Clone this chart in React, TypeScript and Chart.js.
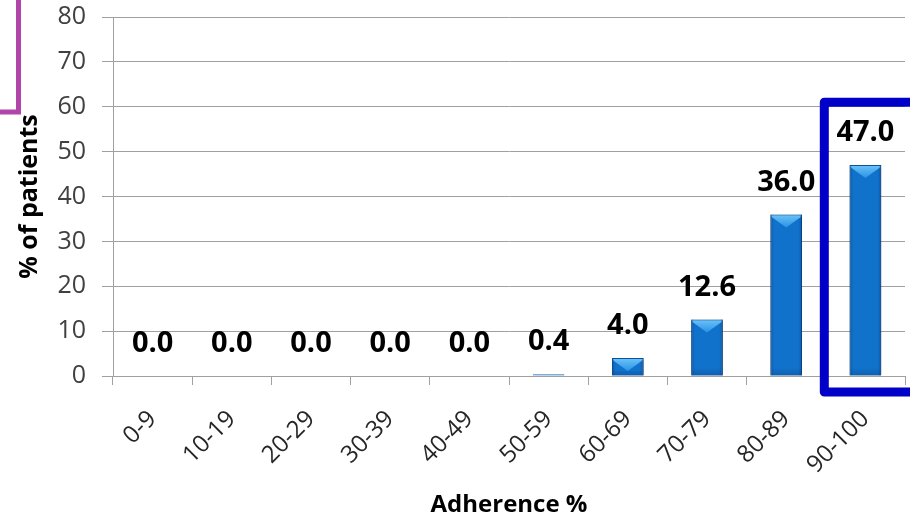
import React, { useEffect, useRef } from "react";
import { Chart, registerables } from "chart.js";

Chart.register(...registerables);

// Adherence bands and share of patients in each band
const categories = ["0-9", "10-19", "20-29", "30-39", "40-49", "50-59", "60-69", "70-79", "80-89", "90-100"];
const patientShare = [0.0, 0.0, 0.0, 0.0, 0.0, 0.4, 4.0, 12.6, 36.0, 47.0];
const yTicks = [0, 10, 20, 30, 40, 50, 60, 70, 80];

const FONT = "'Open Sans', 'Liberation Sans', sans-serif";

// Draws the bevelled top facet on each bar
const bevelPlugin = {
  id: "bevel",
  beforeDatasetsDraw(chart: any) {
    const ctx = chart.ctx;
    ctx.save();
    ctx.shadowColor = "rgba(0,0,0,0.35)";
    ctx.shadowBlur = 4;
    ctx.shadowOffsetX = 1;
    ctx.shadowOffsetY = 1;
  },
  afterDatasetsDraw(chart: any) {
    const ctx = chart.ctx;
    ctx.restore();
    const meta = chart.getDatasetMeta(0);
    meta.data.forEach((el: any) => {
      const { x, y, base, width } = el.getProps(["x", "y", "base", "width"], true);
      const h = base - y;
      if (h < 2) return;
      const l = x - width / 2;
      const r = x + width / 2;
      // side shading
      const side = ctx.createLinearGradient(l, 0, r, 0);
      side.addColorStop(0, "rgba(0,40,110,0.35)");
      side.addColorStop(0.12, "rgba(0,40,110,0)");
      side.addColorStop(0.88, "rgba(0,40,110,0)");
      side.addColorStop(1, "rgba(0,40,110,0.35)");
      ctx.fillStyle = side;
      ctx.fillRect(l, y, width, h);
      // top facet
      const depth = Math.min(13, h - 1);
      const g = ctx.createLinearGradient(0, y, 0, y + depth);
      g.addColorStop(0, "#6cc4fa");
      g.addColorStop(1, "#2b92e4");
      ctx.beginPath();
      ctx.moveTo(l + 1, y + 1);
      ctx.lineTo(r - 1, y + 1);
      ctx.lineTo(r - 2, y + 3);
      ctx.lineTo(x, y + depth);
      ctx.lineTo(l + 2, y + 3);
      ctx.closePath();
      ctx.fillStyle = g;
      ctx.fill();
      // darker foot
      const foot = ctx.createLinearGradient(0, base - 8, 0, base);
      foot.addColorStop(0, "rgba(0,40,100,0)");
      foot.addColorStop(1, "rgba(0,40,100,0.25)");
      ctx.fillStyle = foot;
      ctx.fillRect(l + 1, Math.max(y + depth, base - 8), width - 2, Math.min(8, h - depth));
    });
  },
};

// Value labels above every bar
const valueLabelPlugin = {
  id: "valueLabels",
  afterDatasetsDraw(chart: any) {
    const ctx = chart.ctx;
    const meta = chart.getDatasetMeta(0);
    ctx.save();
    ctx.font = `bold 29px ${FONT}`;
    ctx.fillStyle = "#000";
    ctx.textAlign = "center";
    ctx.textBaseline = "middle";
    meta.data.forEach((el: any, i: number) => {
      const { x, y } = el.getProps(["x", "y"], true);
      ctx.fillText(patientShare[i].toFixed(1), x, y - 32);
    });
    ctx.restore();
  },
};

// Highlight frames: one around the top band, one at the upper-left corner
const framePlugin = {
  id: "frames",
  afterDraw(chart: any) {
    const ctx = chart.ctx;
    const xs = chart.scales.x;
    const ys = chart.scales.y;
    const last = categories.length - 1;
    const half = (xs.getPixelForValue(1) - xs.getPixelForValue(0)) / 2;
    const left = xs.getPixelForValue(last) - half - 1.5;
    const top = ys.getPixelForValue(61);
    const bottom = ys.getPixelForValue(0) + 16;
    ctx.save();
    ctx.strokeStyle = "#0000c8";
    ctx.lineWidth = 9;
    ctx.lineJoin = "round";
    ctx.beginPath();
    ctx.moveTo(chart.width + 20, top);
    ctx.lineTo(left, top);
    ctx.lineTo(left, bottom);
    ctx.lineTo(chart.width + 20, bottom);
    ctx.stroke();

    ctx.strokeStyle = "#b245a9";
    ctx.lineWidth = 5;
    ctx.lineJoin = "miter";
    ctx.beginPath();
    ctx.moveTo(18.5, -10);
    ctx.lineTo(18.5, 112);
    ctx.lineTo(-10, 112);
    ctx.stroke();
    ctx.restore();
  },
};

export default function App() {
  const canvasRef = useRef<HTMLCanvasElement | null>(null);

  useEffect(() => {
    if (!canvasRef.current) return;
    const chart = new Chart(canvasRef.current, {
      type: "bar",
      data: {
        labels: categories,
        datasets: [
          {
            data: patientShare,
            backgroundColor: "#1172cc",
            borderColor: "#0b5aa8",
            borderWidth: 1,
            categoryPercentage: 1,
            barPercentage: 0.4,
          },
        ],
      },
      options: {
        responsive: false,
        animation: false,
        layout: { padding: { top: 17, right: 5, bottom: 0, left: 0 } },
        plugins: {
          legend: { display: false },
          tooltip: { enabled: false },
        },
        scales: {
          x: {
            grid: {
              offset: true,
              drawOnChartArea: false,
              drawTicks: true,
              tickLength: 9,
              color: "#a0a0a0",
            },
            border: { color: "#a0a0a0" },
            ticks: {
              maxRotation: 45,
              minRotation: 45,
              padding: 20,
              color: "#262626",
              font: { family: FONT, size: 24 },
            },
            title: {
              display: true,
              text: "Adherence %",
              color: "#000",
              font: { family: FONT, size: 24, weight: "bold" },
              padding: { top: 0, bottom: 0 },
            },
            afterFit(scale: any) {
              scale.height = 144;
              scale.paddingLeft = 0;
              scale.paddingRight = 0;
            },
          },
          y: {
            min: 0,
            max: 80,
            afterBuildTicks(scale: any) {
              scale.ticks = yTicks.map((v) => ({ value: v }));
            },
            grid: {
              color: "#a0a0a0",
              tickLength: 11,
            },
            border: { color: "#a0a0a0" },
            ticks: {
              padding: 16,
              color: "#404040",
              font: { family: FONT, size: 25 },
            },
            title: {
              display: true,
              text: "% of patients",
              color: "#000",
              font: { family: FONT, size: 25, weight: "bold" },
              padding: { top: 15, bottom: 0 },
            },
            afterFit(scale: any) {
              scale.width = 113;
              scale.paddingTop = 0;
              scale.paddingBottom = 0;
            },
          },
        },
      },
      plugins: [bevelPlugin, valueLabelPlugin, framePlugin],
    });
    return () => chart.destroy();
  }, []);

  return (
    <div style={{ position: "absolute", left: 0, top: 0, width: 910, height: 520 }}>
      <canvas ref={canvasRef} width={910} height={520} style={{ display: "block" }} />
    </div>
  );
}
